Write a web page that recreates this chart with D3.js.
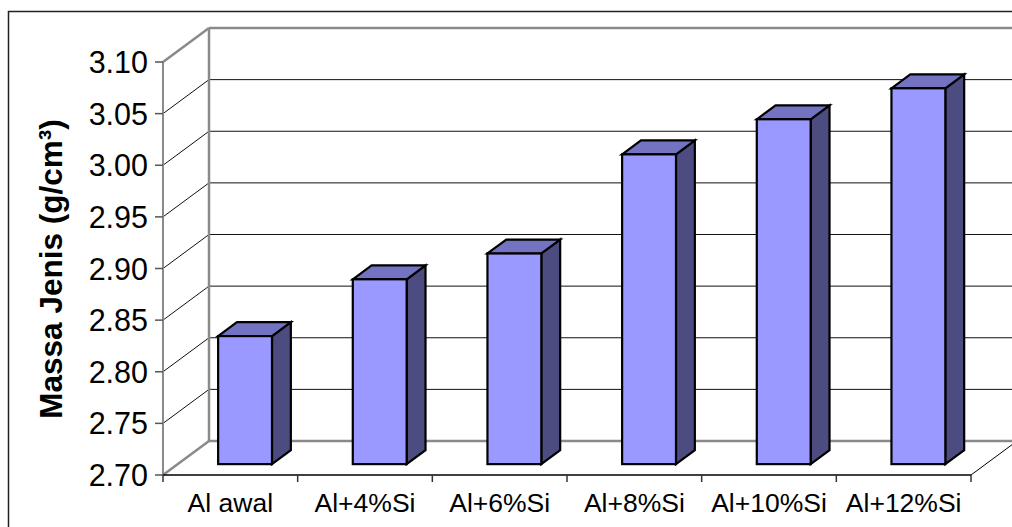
<!DOCTYPE html>
<html>
<head>
<meta charset="utf-8">
<script src="https://cdn.jsdelivr.net/npm/d3@7/dist/d3.min.js"></script>
<style>
  html, body { margin: 0; padding: 0; background: #fff; }
  svg { display: block; font-family: "Liberation Sans", Arial, sans-serif; }
</style>
</head>
<body>
<svg id="chart" width="1012" height="527"></svg>
<script>
// Density of Al and Al-Si alloys
const categories = ["Al awal", "Al+4%Si", "Al+6%Si", "Al+8%Si", "Al+10%Si", "Al+12%Si"];
const density = [2.824, 2.879, 2.904, 3.000, 3.034, 3.064];
const yTicks = [2.70, 2.75, 2.80, 2.85, 2.90, 2.95, 3.00, 3.05, 3.10];
const yTitle = "Massa Jenis (g/cm³)";

const svg = d3.select("#chart");
const W = 1012, H = 527;

// front plane of the 3D box and its depth vector
const plotLeft = 163, plotRight = 971, plotBottom = 475, plotTop = 62;
const depthX = 46, depthY = 34;

const y = d3.scaleLinear().domain([2.70, 3.10]).range([plotBottom, plotTop]);
const slot = d3.scaleBand().domain(categories).range([plotLeft, plotRight]).padding(0);
const xBar = d3.scaleBand().domain(categories).range([plotLeft, plotRight])
  .paddingInner(0.6).paddingOuter(0.3);

const clip = svg.append("defs").append("clipPath").attr("id", "frame");
clip.append("rect").attr("x", 0).attr("y", 0).attr("width", W).attr("height", H);

const g = svg.append("g").attr("clip-path", "url(#frame)");

// outer chart border
g.append("rect")
  .attr("x", 8.5).attr("y", 11.5).attr("width", 1100).attr("height", 600)
  .attr("fill", "none").attr("stroke", "#222").attr("stroke-width", 1.5);

const wallColor = "#8a8a8a";

// gridlines: diagonal on the side wall plus horizontal on the back wall
yTicks.forEach(v => {
  const yy = y(v);
  const edge = (v === 2.70 || v === 3.10);
  const stroke = edge ? wallColor : "#111";
  const sw = edge ? 2.5 : 1;
  g.append("line")
    .attr("x1", plotLeft).attr("y1", yy)
    .attr("x2", plotLeft + depthX).attr("y2", yy - depthY)
    .attr("stroke", stroke).attr("stroke-width", sw);
  g.append("line")
    .attr("x1", plotLeft + depthX).attr("y1", yy - depthY)
    .attr("x2", W + 20).attr("y2", yy - depthY)
    .attr("stroke", stroke).attr("stroke-width", sw);
});

// back wall left edge and front value axis
g.append("line")
  .attr("x1", plotLeft + depthX).attr("y1", y(3.10) - depthY)
  .attr("x2", plotLeft + depthX).attr("y2", y(2.70) - depthY)
  .attr("stroke", wallColor).attr("stroke-width", 2.5);
g.append("line")
  .attr("x1", plotLeft).attr("y1", y(3.10))
  .attr("x2", plotLeft).attr("y2", y(2.70))
  .attr("stroke", wallColor).attr("stroke-width", 2);

// floor right edge
g.append("line")
  .attr("x1", plotRight).attr("y1", plotBottom)
  .attr("x2", plotRight + depthX).attr("y2", plotBottom - depthY)
  .attr("stroke", "#000").attr("stroke-width", 1);

// value axis ticks and labels
yTicks.forEach(v => {
  g.append("line")
    .attr("x1", plotLeft - 8).attr("y1", y(v))
    .attr("x2", plotLeft).attr("y2", y(v))
    .attr("stroke", "#555").attr("stroke-width", 1.5);
  g.append("text")
    .attr("x", plotLeft - 15).attr("y", y(v) + 11)
    .attr("text-anchor", "end")
    .attr("font-size", 30.5)
    .attr("fill", "#000")
    .text(v.toFixed(2));
});

// category axis line, ticks, labels
g.append("line")
  .attr("x1", plotLeft).attr("y1", plotBottom)
  .attr("x2", plotRight).attr("y2", plotBottom)
  .attr("stroke", "#000").attr("stroke-width", 1.5);
const bounds = categories.map(c => slot(c)).concat([plotRight]);
bounds.forEach(bx => {
  g.append("line")
    .attr("x1", bx).attr("y1", plotBottom)
    .attr("x2", bx).attr("y2", plotBottom + 7)
    .attr("stroke", "#333").attr("stroke-width", 1.5);
});
categories.forEach(c => {
  g.append("text")
    .attr("x", slot(c) + slot.bandwidth() / 2)
    .attr("y", 512)
    .attr("text-anchor", "middle")
    .attr("font-size", 26.5)
    .attr("fill", "#000")
    .text(c);
});

// 3D bars
const d0 = 0.32, dd = 0.41;
const bars = g.append("g");
categories.forEach((c, i) => {
  const v = density[i];
  const w = xBar.bandwidth();
  const bx = xBar(c) + d0 * depthX;
  const yt = y(v) - d0 * depthY;
  const yb = y(2.70) - d0 * depthY;
  const ox = dd * depthX, oy = dd * depthY;
  const bar = bars.append("g")
    .attr("stroke", "#000").attr("stroke-width", 2.2).attr("stroke-linejoin", "miter");
  bar.append("polygon")
    .attr("points", [[bx + w, yt], [bx + w + ox, yt - oy], [bx + w + ox, yb - oy], [bx + w, yb]].join(" "))
    .attr("fill", "#4c4c80");
  bar.append("polygon")
    .attr("points", [[bx, yt], [bx + ox, yt - oy], [bx + w + ox, yt - oy], [bx + w, yt]].join(" "))
    .attr("fill", "#7373c2");
  bar.append("rect")
    .attr("x", bx).attr("y", yt)
    .attr("width", w).attr("height", yb - yt)
    .attr("fill", "#9999ff");
});

// axis title
g.append("text")
  .attr("transform", "translate(61.5,269) rotate(-90)")
  .attr("text-anchor", "middle")
  .attr("font-size", 31.5)
  .attr("font-weight", "bold")
  .attr("fill", "#000")
  .text(yTitle);
</script>
</body>
</html>
